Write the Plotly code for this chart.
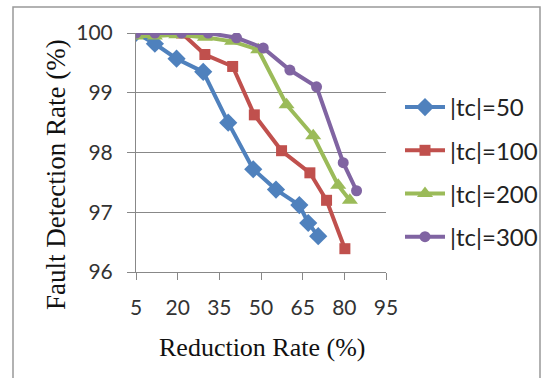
import plotly.graph_objects as go

# Data
names = ["|tc|=50", "|tc|=100", "|tc|=200", "|tc|=300"]
x_tc50 = [5, 11.8, 19.6, 29.2, 38.2, 47.2, 55.4, 63.8, 67.0, 70.6]
y_tc50 = [100, 99.82, 99.57, 99.35, 98.5, 97.72, 97.38, 97.12, 96.82, 96.6]
x_tc100 = [5, 11.8, 21.4, 29.8, 39.8, 47.6, 57.4, 67.6, 73.6, 80.2]
y_tc100 = [100, 100, 100, 99.64, 99.44, 98.63, 98.03, 97.66, 97.2, 96.39]
x_tc200 = [5, 11.8, 19.5, 29.8, 39.6, 49.0, 59.2, 68.8, 77.8, 82.0]
y_tc200 = [99.95, 99.95, 99.97, 99.93, 99.86, 99.72, 98.8, 98.28, 97.45, 97.2]
x_tc300 = [5, 11.8, 21.4, 31.0, 41.2, 50.8, 60.4, 70.0, 79.6, 84.4]
y_tc300 = [100, 100, 100, 100, 99.92, 99.75, 99.38, 99.1, 97.83, 97.36]
x_ticks = [5, 20, 35, 50, 65, 80, 95]
y_ticks = [96, 97, 98, 99, 100]

colors = ["#4F81BD", "#C0504D", "#9BBB59", "#8064A2"]
symbols = ["diamond", "square", "triangle-up", "circle"]
sizes = [14, 11, 14, 11]

fig = go.Figure()
for i, (nm, xs, ys, c, s, sz) in enumerate(zip(names,
                                [x_tc50, x_tc100, x_tc200, x_tc300],
                                [y_tc50, y_tc100, y_tc200, y_tc300],
                                colors, symbols, sizes)):
    fig.add_trace(go.Scatter(x=xs, y=ys, name=nm, mode="lines+markers",
                             legendgroup="g%d" % i,
                             line=dict(color=c, width=4),
                             marker=dict(symbol=s, size=sz, color=c)))

W, H = 543, 378
L, R, T, B = 136, 386, 33, 272

def px_x(p):
    return (p - L) / (R - L)

def px_y(p):
    return (B - p) / (B - T)

fig.update_layout(
    width=W, height=H,
    margin=dict(l=L, r=W - R, t=T, b=H - B, pad=0, autoexpand=False),
    paper_bgcolor="white", plot_bgcolor="white",
    showlegend=True,
    legend=dict(x=px_x(400), y=px_y(85),
                xanchor="left", yanchor="top",
                font=dict(family="Lato", size=24, color="#222"),
                tracegroupgap=9, itemwidth=40, bgcolor="rgba(0,0,0,0)"),
    xaxis=dict(range=[5, 95], tickvals=x_ticks, ticktext=[str(v) for v in x_ticks],
               showgrid=False, zeroline=False, showline=True, linecolor="#888",
               linewidth=1, ticks="outside", ticklen=7, tickcolor="#888",
               tickfont=dict(family="Lato", size=21, color="#333"),
               ticklabelstandoff=10),
    yaxis=dict(range=[96, 100], tickvals=y_ticks, ticktext=[str(v) for v in y_ticks],
               showgrid=True, gridcolor="#888", gridwidth=1, zeroline=False,
               showline=True, linecolor="#888", linewidth=1,
               ticks="outside", ticklen=8, tickcolor="#888",
               tickfont=dict(family="Lato", size=21, color="#333"),
               ticklabelstandoff=10),
    annotations=[
        dict(text="Fault Detection Rate (%)", textangle=-90, showarrow=False,
             xref="paper", yref="paper", x=px_x(56), y=px_y(175),
             xanchor="center", yanchor="middle",
             font=dict(family="Liberation Serif", size=27, color="#111")),
        dict(text="Reduction Rate (%)", showarrow=False,
             xref="paper", yref="paper", x=px_x(262), y=px_y(347),
             xanchor="center", yanchor="middle",
             font=dict(family="Liberation Serif", size=26, color="#111")),
    ],
)

# outer chart frame
fig.add_shape(type="rect", xref="paper", yref="paper",
              x0=px_x(13), x1=px_x(540), y0=px_y(385), y1=px_y(7),
              line=dict(color="#999", width=1.5), fillcolor="rgba(0,0,0,0)", layer="below")

fig.write_html("out.html")
